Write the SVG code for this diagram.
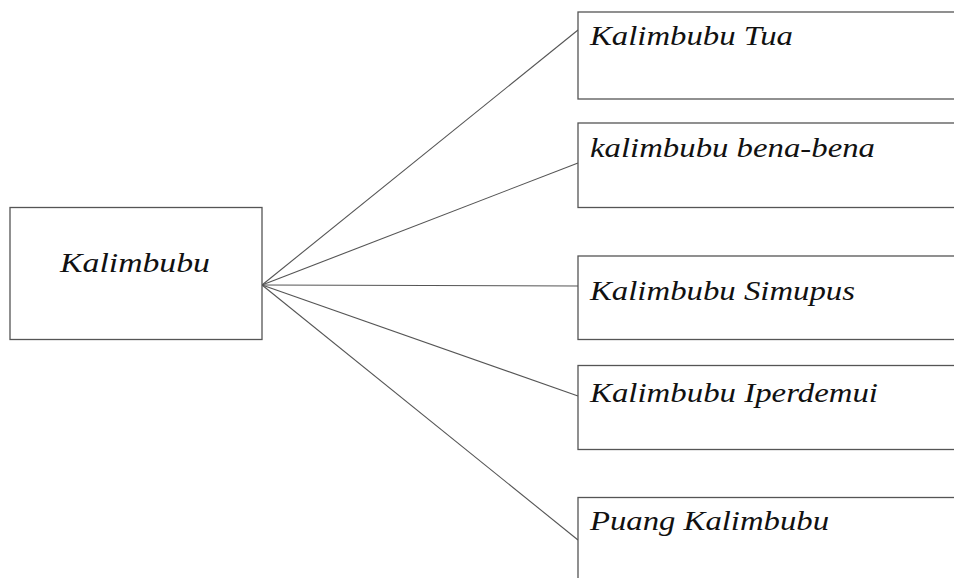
<svg xmlns="http://www.w3.org/2000/svg" width="954" height="578" viewBox="0 0 954 578">
<style>
.box{fill:#fff;stroke:#555;stroke-width:1.3}
.c{stroke:#555;stroke-width:1.1;fill:none}
text{font-family:"Liberation Serif","Times New Roman",serif;font-style:italic;font-size:27px;fill:#111}
</style>
<rect width="954" height="578" fill="#fff"/>
<g id="connectors">
<line class="c" x1="262" y1="285" x2="578" y2="30"/>
<line class="c" x1="262" y1="285" x2="578" y2="163"/>
<line class="c" x1="262" y1="285" x2="578" y2="286"/>
<line class="c" x1="262" y1="285" x2="578" y2="396"/>
<line class="c" x1="262" y1="285" x2="578" y2="540"/>
</g>
<g id="kalimbubu">
<rect class="box" x="10" y="207.5" width="252" height="132"/>
<text x="60" y="272" textLength="150" lengthAdjust="spacingAndGlyphs" font-size="32">Kalimbubu</text>
</g>
<g id="tua">
<rect class="box" x="578" y="12" width="380" height="87"/>
<text x="590" y="45" textLength="203" lengthAdjust="spacingAndGlyphs">Kalimbubu Tua</text>
</g>
<g id="bena">
<rect class="box" x="578" y="123" width="380" height="84.5"/>
<text x="590" y="157" textLength="285" lengthAdjust="spacingAndGlyphs">kalimbubu bena-bena</text>
</g>
<g id="simupus">
<rect class="box" x="578" y="256" width="380" height="83.5"/>
<text x="590" y="300" textLength="265" lengthAdjust="spacingAndGlyphs">Kalimbubu Simupus</text>
</g>
<g id="iperdemui">
<rect class="box" x="578" y="365.5" width="380" height="84"/>
<text x="590" y="402" textLength="288" lengthAdjust="spacingAndGlyphs">Kalimbubu Iperdemui</text>
</g>
<g id="puang">
<rect class="box" x="578" y="497.5" width="380" height="100"/>
<text x="590" y="530" textLength="239" lengthAdjust="spacingAndGlyphs">Puang Kalimbubu</text>
</g>
</svg>
